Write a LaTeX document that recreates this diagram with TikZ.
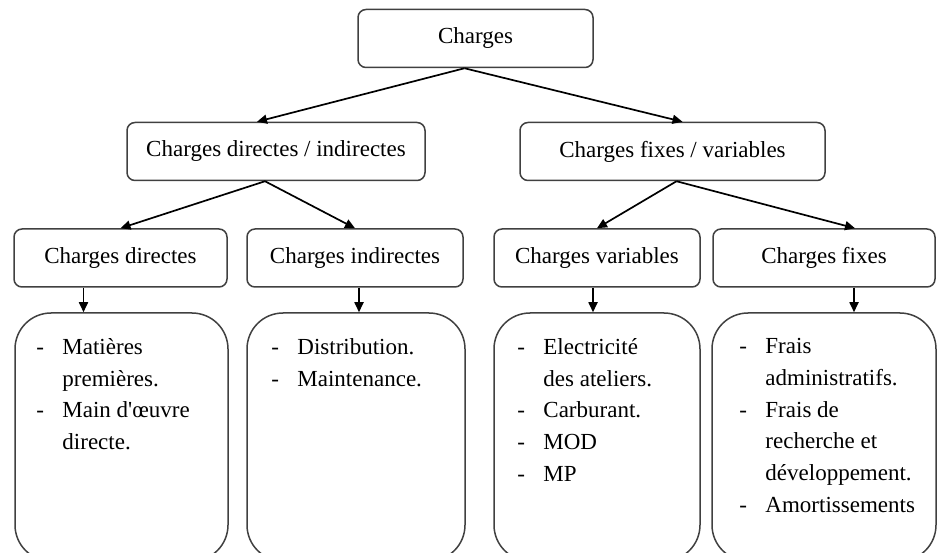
\documentclass[tikz,border=0pt]{standalone}
\usepackage{fontspec}
\setmainfont{Liberation Serif}
\usetikzlibrary{arrows.meta,positioning}

\newcommand{\tiret}{\makebox[26pt][l]{-}}
\newcommand{\suite}{\hspace*{26pt}}

\begin{document}
\begin{tikzpicture}[x=1pt,y=-1pt,
  box/.style={draw=black!75,line width=1.5pt,rounded corners=8pt,minimum height=58pt,font=\fontsize{23}{28}\selectfont},
  bigbox/.style={draw=black!75,line width=1.5pt,rounded corners=36pt,minimum height=248pt},
  items/.style={align=left,inner sep=0pt,font=\fontsize{23}{31.7}\selectfont},
  arr/.style={-{Triangle[length=10pt,width=9pt]},line width=1.7pt}]
\clip (0,0) rectangle (937,553);
% niveaux
\node[box,minimum width=235pt] (charges) at (475.5,38.5) {Charges};
\node[box,minimum width=298pt] (dirind) at (276,151.5) {Charges directes / indirectes};
\node[box,minimum width=305pt] (fixvar) at (672.5,151.5) {Charges fixes / variables};
\node[box,minimum width=213pt] (directes) at (120.5,258) {Charges directes};
\node[box,minimum width=216pt] (indirectes) at (355,258) {Charges indirectes};
\node[box,minimum width=206pt] (variables) at (597,258) {Charges variables};
\node[box,minimum width=222pt] (fixes) at (824,258) {Charges fixes};
% cadres du bas
\node[bigbox,minimum width=213pt] (b1) at (121.5,437) {};
\node[bigbox,minimum width=218pt] (b2) at (356,437) {};
\node[bigbox,minimum width=206pt] (b3) at (597,437) {};
\node[bigbox,minimum width=224pt] (b4) at (824,437) {};
\node[items,anchor=north west] (l1) at ([xshift=22pt,yshift=-26pt]b1.north west)
  {\tiret Matières\\ \suite premières.\\ \tiret Main d\textquotesingle œuvre\\ \suite directe.};
\node[items,anchor=north west] (l2) at ([xshift=25pt,yshift=-26pt]b2.north west)
  {\tiret Distribution.\\ \tiret Maintenance.};
\node[items,anchor=north west] (l3) at ([xshift=24pt,yshift=-26pt]b3.north west)
  {\tiret Electricité\\ \suite des ateliers.\\ \tiret Carburant.\\ \tiret MOD\\ \tiret MP};
\node[items,anchor=north west] (l4) at ([xshift=28pt,yshift=-26pt]b4.north west)
  {\tiret Frais\\ \suite administratifs.\\ \tiret Frais de\\ \suite recherche et\\ \suite développement.\\ \tiret Amortissements};
% fleches
\draw[arr] ([xshift=-11pt]charges.south) -- ([xshift=-19pt]dirind.north);
\draw[arr] ([xshift=-11pt]charges.south) -- ([xshift=10pt]fixvar.north);
\draw[arr] ([xshift=-11pt]dirind.south) -- (directes.north);
\draw[arr] ([xshift=-11pt]dirind.south) -- (indirectes.north);
\draw[arr] ([xshift=4pt]fixvar.south) -- (variables.north);
\draw[arr] ([xshift=4pt]fixvar.south) -- ([xshift=31pt]fixes.north);
\draw[arr] ([xshift=-37pt]directes.south) -- ([xshift=-38pt]b1.north);
\draw[arr] ([xshift=4pt]indirectes.south) -- ([xshift=3pt]b2.north);
\draw[arr] ([xshift=-4pt]variables.south) -- ([xshift=-4pt]b3.north);
\draw[arr] ([xshift=30pt]fixes.south) -- ([xshift=30pt]b4.north);
\end{tikzpicture}
\end{document}
